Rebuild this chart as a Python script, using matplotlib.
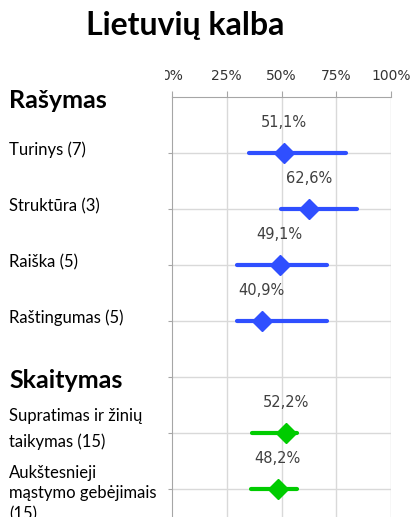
import matplotlib.pyplot as plt
from matplotlib.transforms import blended_transform_factory
from matplotlib.patches import Rectangle

# skill areas and their results (%), with interval ends
rasymas_labels = ["Turinys (7)", "Struktūra (3)", "Raiška (5)", "Raštingumas (5)"]
rasymas_values = [51.1, 62.6, 49.1, 40.9]
rasymas_low = [35.2, 49.8, 29.8, 29.8]
rasymas_high = [79.5, 84.3, 70.6, 70.6]

skaitymas_labels = ["Supratimas ir žinių\ntaikymas (15)",
                    "Aukštesnieji\nmąstymo gebėjimais\n(15)"]
skaitymas_values = [52.2, 48.2]
skaitymas_low = [36.4, 36.0]
skaitymas_high = [57.0, 57.1]

x_ticks = [0, 25, 50, 75, 100]
x_ticklabels = ["0%", "25%", "50%", "75%", "100%"]

BLUE = "#2f4fff"
GREEN = "#00cc00"
GRID = "#d9d9d9"
AXIS = "#a6a6a6"
LABEL_FONT = ["Lato", "DejaVu Sans"]

fig = plt.figure(figsize=(4.12, 5.17), dpi=100)
ax = fig.add_axes([172 / 412, 0, 219 / 412, 420 / 517])

# row 0 and row 5 are the section headers
groups = [
    ("Rašymas", 0, rasymas_labels, rasymas_values, rasymas_low, rasymas_high, BLUE),
    ("Skaitymas", 5, skaitymas_labels, skaitymas_values, skaitymas_low, skaitymas_high, GREEN),
]

# vertical offset and line spacing for each row label
label_shift = {"Supratimas ir žinių\ntaikymas (15)": (-0.07, 1.75),
               "Aukštesnieji\nmąstymo gebėjimais\n(15)": (0.08, 1.35)}

ax.set_xlim(0, 100)
ax.set_ylim(7.5, 0)

for x in x_ticks[1:]:
    ax.axvline(x, color=GRID, lw=1, zorder=0)
for y in range(1, 8):
    ax.axhline(y, color=GRID, lw=1, zorder=0)

lab_tr = blended_transform_factory(fig.transFigure, ax.transData)

for title, start, labels, vals, lo, hi, color in groups:
    ax.text(9 / 412, start + 0.06, title, transform=lab_tr, ha="left", va="center",
            fontsize=18, fontweight="bold", family=LABEL_FONT)
    for i, (lab, v, a, b) in enumerate(zip(labels, vals, lo, hi)):
        y = start + 1 + i
        ax.plot([a, b], [y, y], color=color, lw=3, solid_capstyle="round", zorder=3)
        ax.plot(v, y, marker="D", ms=10, color=color, mec=color, zorder=4)
        ax.text(v, y - 0.54, f"{v:.1f}%".replace(".", ","), ha="center", va="center",
                fontsize=10.5, color="#404040")
        dy, ls = label_shift.get(lab, (-0.05, 1.2))
        ax.text(9 / 412, y + dy, lab, transform=lab_tr, ha="left", va="center",
                fontsize=12, family=LABEL_FONT, linespacing=ls)

ax.xaxis.tick_top()
ax.set_xticks(x_ticks)
ax.set_xticklabels(x_ticklabels)
ax.tick_params(axis="x", length=4, color=AXIS, labelsize=10, labelcolor="#333333", pad=6)
ax.set_yticks(range(1, 8))
ax.set_yticklabels([])
ax.tick_params(axis="y", length=3, color=AXIS)

for side in ["bottom", "right"]:
    ax.spines[side].set_visible(False)
for side in ["top", "left"]:
    ax.spines[side].set_color(AXIS)

# left label panel sits over part of the first tick label
fig.patches.append(Rectangle((0, (517 - 85) / 517), 165 / 412, 22 / 517,
                             transform=fig.transFigure,
                             facecolor="white", edgecolor="none", zorder=5))

fig.text(185 / 412, 1 - 25 / 517, "Lietuvių kalba", ha="center", va="center",
         fontsize=23, fontweight="bold", family=LABEL_FONT)

fig.savefig("out.png", dpi=100)
